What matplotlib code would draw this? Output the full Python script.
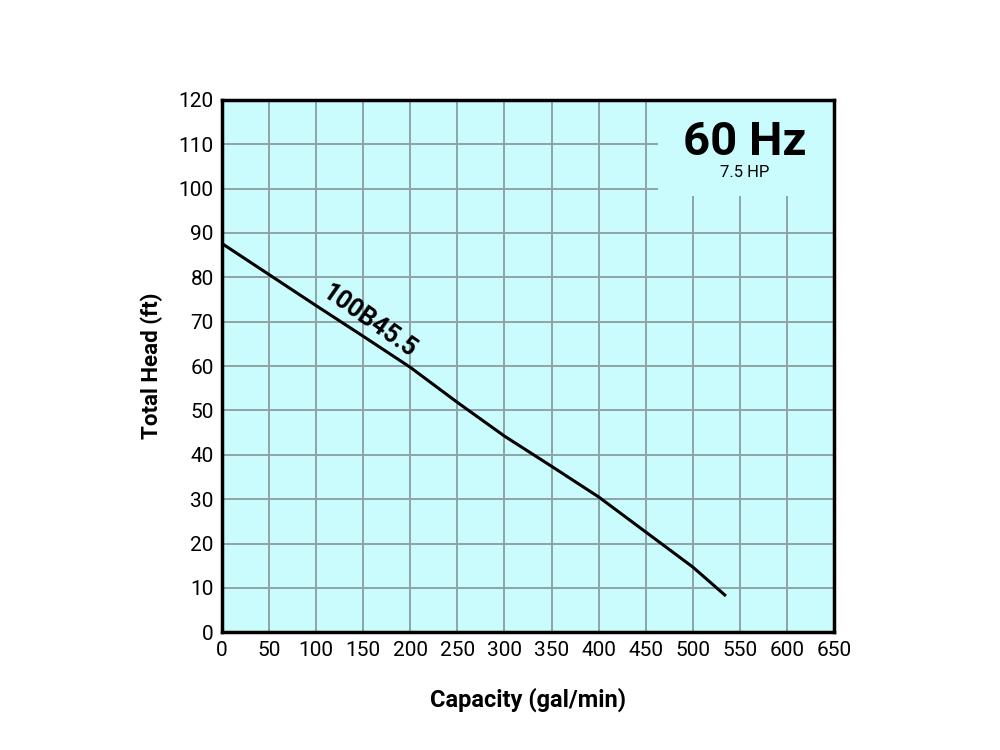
import matplotlib.pyplot as plt
from matplotlib.patches import Rectangle

plt.rcParams['font.family'] = ['Roboto', 'DejaVu Sans']

# curve
capacity = [0, 50, 100, 150, 200, 250, 300, 350, 400, 450, 500, 534]
head = [87.6, 80.6, 73.6, 66.7, 59.7, 51.8, 44.2, 37.4, 30.5, 22.6, 14.7, 8.4]

xticks = list(range(0, 651, 50))
yticks = list(range(0, 121, 10))

model = "100B45.5"
freq = "60 Hz"
power = "7.5 HP"

bg = "#cafbfd"
gridc = "#8fa3a6"

fig = plt.figure(figsize=(10, 7.5), dpi=100)
ax = fig.add_axes([0.222, 0.157, 0.612, 0.710])
ax.set_facecolor(bg)

ax.set_xlim(0, 650)
ax.set_ylim(0, 120)
ax.set_xticks(xticks)
ax.set_yticks(yticks)
ax.grid(True, color=gridc, linewidth=1.4)
ax.set_axisbelow(True)
ax.tick_params(length=0, labelsize=15, pad=6)

for s in ax.spines.values():
    s.set_linewidth(2.5)
    s.set_color("black")

# clear area behind the frequency label
ax.add_patch(Rectangle((463, 98.3), 187, 21.7, facecolor=bg, edgecolor="none", zorder=1))

ax.plot(capacity, head, color="black", linewidth=2.2, zorder=3)

ax.text(157, 70.0, model, rotation=-35, fontsize=18, fontweight="bold",
        ha="center", va="center", rotation_mode="anchor", zorder=4)

ax.text(555, 110.5, freq, fontsize=34, fontweight="bold", ha="center", va="center", zorder=4)
ax.text(555, 103.5, power, fontsize=12, ha="center", va="center", zorder=4)

ax.set_xlabel("Capacity (gal/min)", fontsize=17, fontweight="bold", labelpad=20)
ax.set_ylabel("Total Head (ft)", fontsize=16, fontweight="bold", labelpad=11)

fig.savefig("out.png")
